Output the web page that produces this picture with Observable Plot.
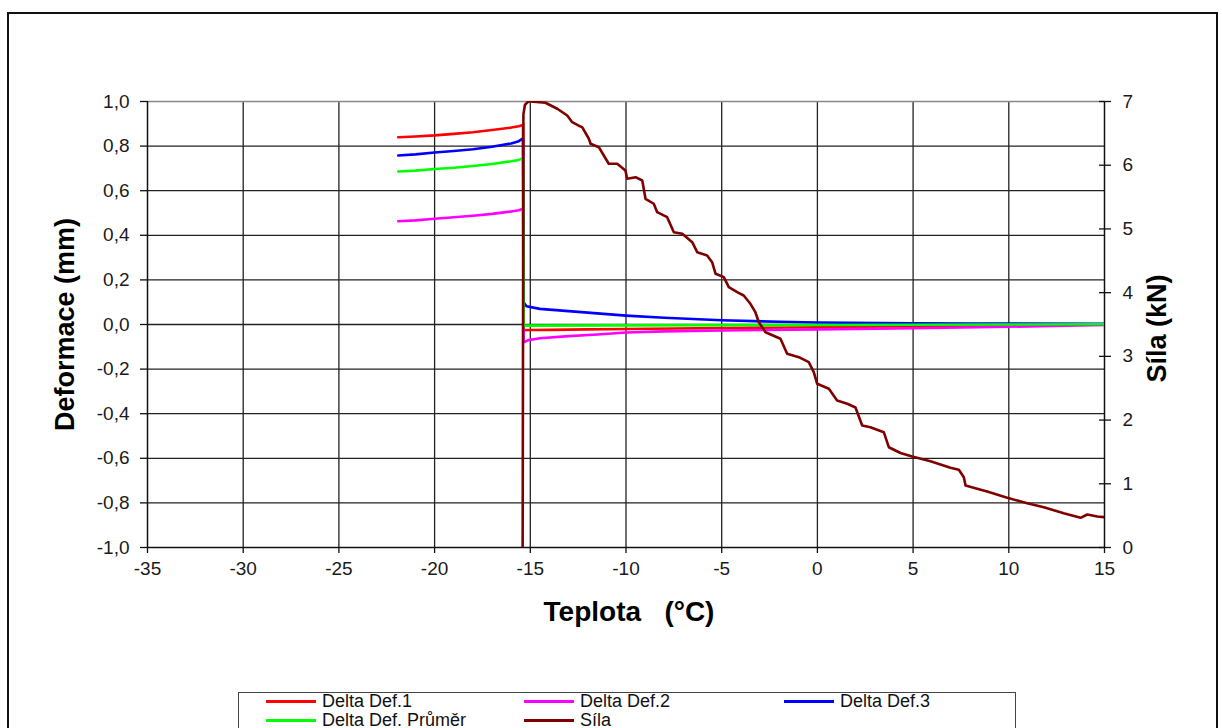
<!DOCTYPE html>
<html>
<head>
<meta charset="utf-8">
<script src="https://cdn.jsdelivr.net/npm/d3@7"></script>
<script src="https://cdn.jsdelivr.net/npm/@observablehq/plot@0.6"></script>
<style>
  body { margin: 0; background: #fff; font-family: "Liberation Sans", Arial, sans-serif; }
  #wrap { position: relative; width: 1222px; height: 728px; overflow: hidden; background: #fff; }
  #frame { position: absolute; left: 7px; top: 12px; width: 1207px; height: 760px; border: 2px solid #111; pointer-events: none; }
  #legend { position: absolute; left: 238px; top: 692px; width: 776px; height: 60px; border: 1.5px solid #444; background: #fff; }
  .item { position: absolute; height: 20px; display: flex; align-items: center; font-size: 18px; color: #111; white-space: nowrap; }
  .swatch { width: 50px; height: 3px; margin-right: 6px; }
</style>
</head>
<body>
<div id="wrap">
  <div id="chart"></div>
  <div id="legend"></div>
  <div id="frame"></div>
</div>
<script>
// Temperature (°C) vs. deformation (mm) — pairs of [teplota, hodnota]
const def1 = [[-21.9,0.840],[-21,0.843],[-20,0.848],[-19,0.855],[-18,0.862],[-17,0.872],[-16,0.883],[-15.6,0.889],[-15.38,0.895],
  [-15.35,-0.026],[-15,-0.025],[-14,-0.024],[-12,-0.022],[-10,-0.020],[-5,-0.016],[0,-0.012],[5,-0.008],[10,-0.004],[15,0.000]];
const def2 = [[-21.9,0.463],[-21,0.467],[-20,0.474],[-19,0.481],[-18,0.488],[-17,0.496],[-16,0.507],[-15.6,0.512],[-15.38,0.519],
  [-15.35,-0.080],[-15.1,-0.070],[-14.5,-0.062],[-13,-0.052],[-11.5,-0.045],[-10,-0.036],[-8,-0.031],[-5,-0.027],[0,-0.022],[5,-0.017],[10,-0.010],[15,-0.002]];
const def3 = [[-21.9,0.758],[-21,0.763],[-20,0.771],[-19,0.778],[-18,0.786],[-17,0.797],[-16,0.812],[-15.6,0.822],[-15.38,0.835],
  [-15.35,0.100],[-15.2,0.082],[-14.5,0.070],[-13,0.060],[-11.5,0.050],[-10,0.040],[-8,0.030],[-5,0.019],[-2,0.012],[0,0.009],[5,0.005],[8,0.004],[10,0.004],[15,0.003]];
const defAvg = [[-21.9,0.686],[-21,0.690],[-20,0.697],[-19,0.703],[-18,0.711],[-17,0.720],[-16,0.732],[-15.6,0.738],[-15.38,0.746],
  [-15.35,-0.005],[-10,-0.004],[-5,-0.003],[0,-0.002],[5,-0.001],[10,0.000],[15,0.001]];

// Temperature (°C) vs. force (kN)
const sila = [[-15.40,0],[-15.36,6.80],[-15.28,6.95],[-15.1,7.0],[-14.99,7.0],[-14.21,6.98],[-13.59,6.886],[-13.07,6.78],[-12.81,6.675],
  [-12.47,6.62],[-12.29,6.597],[-11.94,6.415],[-11.85,6.337],[-11.42,6.283],[-11.16,6.153],[-10.90,6.023],[-10.46,6.023],
  [-10.03,5.918],[-9.94,5.787],[-9.50,5.812],[-9.15,5.760],[-8.98,5.473],[-8.55,5.395],[-8.37,5.263],[-7.85,5.184],
  [-7.50,4.949],[-7.06,4.924],[-6.54,4.792],[-6.28,4.635],[-5.76,4.583],[-5.50,4.478],[-5.32,4.296],[-4.89,4.243],
  [-4.63,4.086],[-4.19,4.007],[-3.85,3.955],[-3.50,3.825],[-3.24,3.693],[-3.06,3.536],[-2.71,3.379],[-1.93,3.276],
  [-1.58,3.040],[-0.97,2.987],[-0.45,2.909],[-0.19,2.752],[-0.01,2.569],[0.60,2.491],[1.03,2.307],[1.56,2.256],
  [1.99,2.197],[2.34,1.915],[2.77,1.888],[3.47,1.810],[3.73,1.574],[4.34,1.483],[4.95,1.428],[5.91,1.355],
  [6.95,1.251],[7.39,1.220],[7.65,1.103],[7.74,0.973],[8.35,0.921],[8.87,0.879],[9.92,0.780],[10.96,0.695],
  [11.83,0.632],[12.87,0.538],[13.75,0.466],[14.10,0.518],[14.62,0.487],[15.0,0.476]];

const xTicks = [-35, -30, -25, -20, -15, -10, -5, 0, 5, 10, 15];
const yTicks = [-1, -0.8, -0.6, -0.4, -0.2, 0, 0.2, 0.4, 0.6, 0.8, 1];
const silaTicks = [0, 1, 2, 3, 4, 5, 6, 7];

const seriesNames = ["Delta Def.1", "Delta Def.2", "Delta Def.3", "Delta Def. Průměr", "Síla"];
const seriesColors = ["#ff0000", "#ff00ff", "#0000ff", "#00ff00", "#800000"];

// Secondary axis: force 0–7 kN shares the deformation scale (-1…1 mm)
const silaMax = 7;
const toY = kN => -1 + (kN / silaMax) * 2;
const fromY = y => (y + 1) / 2 * silaMax;

const innerX = xTicks.slice(1, -1);
const innerY = yTicks.slice(1, -1);
const lw = 2.6;

const line = (data, color) => Plot.line(data, {x: d => d[0], y: d => d[1], stroke: color, strokeWidth: lw, clip: true});

const chart = Plot.plot({
  width: 1222,
  height: 728,
  marginLeft: 147,
  marginRight: 118,
  marginTop: 101,
  marginBottom: 181,
  style: {fontFamily: "'Liberation Sans', Arial, sans-serif", fontSize: "19px", color: "#1a1a1a", background: "transparent"},
  x: {domain: [-35, 15]},
  y: {domain: [-1, 1]},
  marks: [
    Plot.gridX(innerX, {stroke: "#222", strokeOpacity: 1, strokeWidth: 1.3}),
    Plot.gridY(innerY, {stroke: "#222", strokeOpacity: 1, strokeWidth: 1.3}),
    Plot.ruleY([1], {stroke: "#888", strokeWidth: 1.5}),
    Plot.ruleX([-35, 15], {stroke: "#111", strokeWidth: 1.5}),
    Plot.ruleY([-1], {stroke: "#111", strokeWidth: 1.5}),
    Plot.axisX(xTicks, {tickFormat: d => String(d), tickSize: 6, tickPadding: 8, stroke: "#111", strokeWidth: 1.3, label: null}),
    Plot.axisY(yTicks, {anchor: "left", tickFormat: d => d.toFixed(1).replace(".", ","), tickSize: 7, tickPadding: 11, stroke: "#111", strokeWidth: 1.3, label: null}),
    Plot.axisY(silaTicks.map(toY), {anchor: "right", tickFormat: d => String(Math.round(fromY(d))), tickSize: 6, tickPadding: 12, stroke: "#111", strokeWidth: 1.3, label: null}),
    Plot.axisY(silaTicks.map(toY), {anchor: "right", fill: "none", tickSize: 6, dx: -6, stroke: "#111", strokeWidth: 1.3, label: null}),
    Plot.text(["Deformace (mm)"], {text: d => d, frameAnchor: "left", textAnchor: "middle", rotate: -90, dx: -82, fontSize: 27, fontWeight: "bold", fill: "#000"}),
    Plot.text(["Síla (kN)"], {text: d => d, frameAnchor: "right", textAnchor: "middle", rotate: -90, dx: 53, dy: 4, fontSize: 27, fontWeight: "bold", fill: "#000"}),
    Plot.text(["Teplota\u00a0\u00a0\u00a0(°C)"], {text: d => d, frameAnchor: "bottom", dx: 3, dy: 73, fontSize: 28, fontWeight: "bold", fill: "#000"}),
    line(def1, seriesColors[0]),
    line(def2, seriesColors[1]),
    line(def3, seriesColors[2]),
    line(defAvg, seriesColors[3]),
    Plot.line(sila, {x: d => d[0], y: d => toY(d[1]), stroke: seriesColors[4], strokeWidth: lw, clip: true})
  ]
});
document.getElementById("chart").append(chart);

// Legend: two rows, three columns
const legendPos = [[27, -2], [285, -2], [545, -2], [27, 17], [285, 17]];
const legend = document.getElementById("legend");
seriesNames.forEach((name, i) => {
  const item = document.createElement("div");
  item.className = "item";
  item.style.left = legendPos[i][0] + "px";
  item.style.top = legendPos[i][1] + "px";
  const sw = document.createElement("span");
  sw.className = "swatch";
  sw.style.background = seriesColors[i];
  const label = document.createElement("span");
  label.textContent = name;
  item.append(sw, label);
  legend.append(item);
});
</script>
</body>
</html>
